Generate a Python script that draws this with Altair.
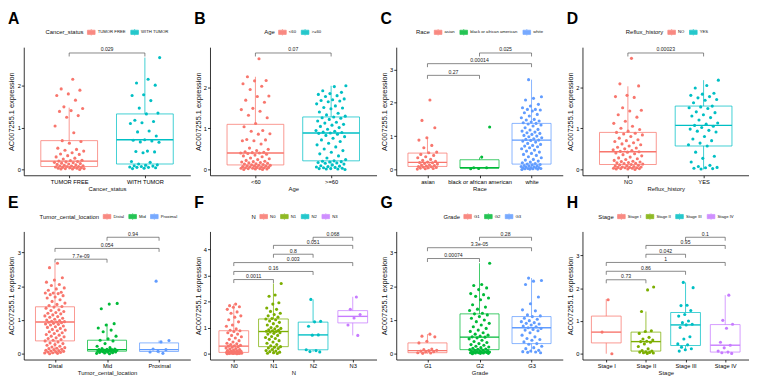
import altair as alt
import pandas as pd

FONT = "Liberation Sans"
YTITLE = "AC007255.1 expression"
PAL2 = ["#F8766D", "#00BFC4"]
PAL3 = ["#F8766D", "#00BA38", "#619CFF"]
PAL4 = ["#F8766D", "#7CAE00", "#00BFC4", "#C77CFF"]

# ---------------- Panel A : Cancer_status ----------------
A_cats = ["TUMOR FREE", "WITH TUMOR"]
A_tumor_free = [2.16, 1.93, 1.90, 1.81, 1.77, 1.66, 1.50, 1.46, 1.41, 1.39, 1.29, 1.25, 1.04, 0.88,
                0.69, 0.67, 0.63, 0.51, 0.48, 0.46, 0.44, 0.40, 0.37, 0.36, 0.33, 0.30, 0.27, 0.25,
                0.22, 0.21, 0.20, 0.19, 0.18, 0.17, 0.16, 0.15, 0.14, 0.13, 0.12, 0.11, 0.10, 0.09,
                0.08, 0.08, 0.07, 0.07, 0.06, 0.05, 0.05, 0.04, 0.04, 0.03, 0.03, 0.02, 0.02, 0.01,
                0.01, 0.00]
A_with_tumor = [2.68, 2.16, 2.07, 2.02, 1.79, 1.77, 1.65, 1.47, 1.35, 1.33, 1.18, 1.15, 1.12, 1.10,
                0.92, 0.90, 0.80, 0.71, 0.70, 0.68, 0.66, 0.65, 0.44, 0.43, 0.42, 0.40, 0.19, 0.17,
                0.13, 0.11, 0.10, 0.09, 0.08, 0.07, 0.06, 0.05, 0.05, 0.04, 0.03, 0.02]
A_q1 = [0.07, 0.13]
A_med = [0.20, 0.71]
A_q3 = [0.69, 1.33]
A_lo = [0.00, 0.02]
A_hi = [1.48, 2.68]
A_pairs = [(1, 2)]
A_p = ["0.029"]
A_h = [2.79]

# ---------------- Panel B : Age ----------------
B_cats = ["<60", ">=60"]
B_lt60 = [2.70, 2.26, 2.17, 2.16, 2.09, 2.03, 1.95, 1.79, 1.78, 1.69, 1.64, 1.49, 1.46, 1.42, 1.32,
          1.26, 1.12, 1.04, 0.95, 0.93, 0.87, 0.86, 0.73, 0.72, 0.70, 0.70, 0.62, 0.52, 0.49, 0.46,
          0.43, 0.42, 0.41, 0.40, 0.40, 0.39, 0.37, 0.35, 0.33, 0.31, 0.28, 0.26, 0.24, 0.22, 0.20,
          0.19, 0.18, 0.17, 0.16, 0.15, 0.14, 0.13, 0.12, 0.11, 0.10, 0.10, 0.09, 0.08, 0.08, 0.07,
          0.06, 0.06, 0.05, 0.05, 0.04, 0.04, 0.03, 0.03, 0.02, 0.02, 0.01, 0.01, 0.00, 0.00]
B_ge60 = [2.04, 2.02, 1.92, 1.88, 1.85, 1.83, 1.80, 1.78, 1.72, 1.70, 1.68, 1.67, 1.65, 1.60, 1.55,
          1.51, 1.50, 1.48, 1.40, 1.37, 1.33, 1.30, 1.28, 1.26, 1.25, 1.22, 1.18, 1.15, 1.13, 1.10,
          1.08, 1.05, 1.02, 0.98, 0.95, 0.93, 0.91, 0.90, 0.89, 0.88, 0.86, 0.83, 0.80, 0.76, 0.72,
          0.68, 0.64, 0.60, 0.55, 0.50, 0.46, 0.42, 0.38, 0.33, 0.28, 0.24, 0.21, 0.20, 0.19, 0.18,
          0.17, 0.16, 0.15, 0.13, 0.11, 0.09, 0.08, 0.07, 0.06, 0.05, 0.04, 0.03, 0.02, 0.02, 0.01,
          0.01, 0.00]
B_q1 = [0.11, 0.21]
B_med = [0.40, 0.89]
B_q3 = [1.10, 1.28]
B_lo = [0.00, 0.00]
B_hi = [2.26, 2.04]
B_pairs = [(1, 2)]
B_p = ["0.07"]
B_h = [2.84]

# ---------------- Panel C : Race ----------------
C_cats = ["asian", "black or african american", "white"]
C_asian = [2.08, 1.47, 1.25, 0.95, 0.88, 0.72, 0.65, 0.52, 0.50, 0.45, 0.42, 0.38, 0.35, 0.30,
           0.27, 0.24, 0.22, 0.21, 0.20, 0.18, 0.16, 0.14, 0.13, 0.12, 0.10, 0.09, 0.08, 0.07,
           0.06, 0.05, 0.04, 0.03, 0.02, 0.01]
C_black = [1.27, 0.37, 0.05, 0.05, 0.03, 0.02]
C_white = [2.69, 2.18, 2.13, 2.08, 1.95, 1.90, 1.85, 1.80, 1.80, 1.78, 1.75, 1.70, 1.65, 1.60,
           1.55, 1.50, 1.48, 1.45, 1.42, 1.40, 1.38, 1.36, 1.33, 1.30, 1.25, 1.20, 1.18, 1.15,
           1.12, 1.10, 1.08, 1.05, 1.02, 1.00, 0.98, 0.95, 0.92, 0.90, 0.88, 0.87, 0.85, 0.82,
           0.78, 0.75, 0.72, 0.70, 0.68, 0.65, 0.62, 0.58, 0.55, 0.52, 0.48, 0.45, 0.42, 0.38,
           0.35, 0.30, 0.28, 0.25, 0.22, 0.20, 0.18, 0.16, 0.15, 0.14, 0.12, 0.11, 0.10, 0.09,
           0.08, 0.07, 0.06, 0.05, 0.04, 0.04, 0.03, 0.03, 0.02, 0.02, 0.01, 0.01, 0.00]
C_q1 = [0.09, 0.04, 0.16]
C_med = [0.21, 0.05, 0.88]
C_q3 = [0.49, 0.29, 1.38]
C_lo = [0.00, 0.02, 0.00]
C_hi = [0.93, 0.36, 2.69]
C_pairs = [(1, 2), (1, 3), (2, 3)]
C_p = ["0.27", "0.00014", "0.025"]
C_h = [2.82, 3.17, 3.49]

# ---------------- Panel D : Reflux_history ----------------
D_cats = ["NO", "YES"]
D_no = [2.70, 2.08, 2.03, 1.80, 1.77, 1.75, 1.50, 1.44, 1.42, 1.33, 1.27, 1.17, 1.12, 1.05, 1.00,
        0.97, 0.93, 0.90, 0.88, 0.86, 0.84, 0.80, 0.76, 0.72, 0.70, 0.68, 0.65, 0.62, 0.60, 0.57,
        0.54, 0.52, 0.50, 0.48, 0.46, 0.44, 0.43, 0.42, 0.40, 0.38, 0.36, 0.33, 0.30, 0.28, 0.26,
        0.24, 0.22, 0.20, 0.19, 0.18, 0.17, 0.16, 0.15, 0.14, 0.13, 0.12, 0.11, 0.10, 0.09, 0.08,
        0.07, 0.06, 0.06, 0.05, 0.05, 0.04, 0.04, 0.03, 0.03, 0.02, 0.02, 0.01, 0.01, 0.00]
D_yes = [2.17, 2.04, 1.98, 1.85, 1.83, 1.80, 1.77, 1.74, 1.70, 1.68, 1.62, 1.54, 1.52, 1.50, 1.48,
         1.40, 1.38, 1.33, 1.30, 1.26, 1.20, 1.13, 1.10, 1.07, 1.05, 1.02, 0.98, 0.95, 0.93, 0.91,
         0.80, 0.74, 0.70, 0.64, 0.60, 0.57, 0.42, 0.32, 0.27, 0.18, 0.10, 0.07, 0.05, 0.04, 0.03,
         0.02, 0.01]
D_q1 = [0.12, 0.57]
D_med = [0.43, 1.07]
D_q3 = [0.90, 1.54]
D_lo = [0.00, 0.00]
D_hi = [2.02, 2.17]
D_pairs = [(1, 2)]
D_p = ["0.00023"]
D_h = [2.83]

# ---------------- Panel E : Tumor_cental_location ----------------
E_cats = ["Distal", "Mid", "Proximal"]
E_distal = [2.68, 2.55, 2.25, 2.18, 2.12, 2.05, 2.02, 1.95, 1.92, 1.88, 1.82, 1.80, 1.80, 1.78,
            1.75, 1.72, 1.68, 1.65, 1.60, 1.55, 1.50, 1.46, 1.43, 1.40, 1.38, 1.35, 1.30, 1.28,
            1.25, 1.22, 1.20, 1.18, 1.15, 1.12, 1.10, 1.08, 1.05, 1.02, 1.00, 0.98, 0.96, 0.95,
            0.94, 0.93, 0.92, 0.90, 0.88, 0.87, 0.85, 0.82, 0.80, 0.78, 0.75, 0.72, 0.70, 0.68,
            0.65, 0.62, 0.60, 0.57, 0.55, 0.52, 0.50, 0.47, 0.45, 0.42, 0.40, 0.38, 0.35, 0.32,
            0.30, 0.27, 0.25, 0.22, 0.20, 0.18, 0.16, 0.15, 0.13, 0.12, 0.10, 0.09, 0.08, 0.07,
            0.06, 0.05, 0.04, 0.03, 0.02, 0.01, 0.00]
E_mid = [1.49, 1.47, 1.33, 0.89, 0.85, 0.76, 0.70, 0.65, 0.52, 0.44, 0.40, 0.38, 0.30, 0.22,
         0.18, 0.15, 0.14, 0.13, 0.12, 0.12, 0.11, 0.10, 0.10, 0.09, 0.09, 0.08, 0.08, 0.07,
         0.06, 0.05, 0.05, 0.04, 0.03, 0.02, 0.01, 0.00]
E_proximal = [2.15, 0.39, 0.35, 0.14, 0.12, 0.07, 0.05, 0.01]
E_q1 = [0.38, 0.075, 0.066]
E_med = [0.94, 0.12, 0.12]
E_q3 = [1.39, 0.40, 0.32]
E_lo = [0.00, 0.00, 0.01]
E_hi = [2.68, 0.89, 0.39]
E_pairs = [(1, 2), (1, 3), (2, 3)]
E_p = ["7.7e-09", "0.054", "0.94"]
E_h = [2.80, 3.12, 3.45]

# ---------------- Panel F : N ----------------
F_cats = ["N0", "N1", "N2", "N3"]
F_n0 = [1.90, 1.84, 1.80, 1.78, 1.70, 1.60, 1.55, 1.45, 1.40, 1.30, 1.22, 1.10, 1.05, 0.95, 0.90,
        0.88, 0.85, 0.80, 0.75, 0.70, 0.65, 0.60, 0.55, 0.50, 0.45, 0.40, 0.38, 0.35, 0.32, 0.30,
        0.29, 0.27, 0.25, 0.22, 0.20, 0.18, 0.16, 0.14, 0.12, 0.11, 0.10, 0.09, 0.08, 0.07, 0.06,
        0.06, 0.05, 0.05, 0.04, 0.04, 0.03, 0.03, 0.03, 0.02, 0.02, 0.02, 0.01, 0.01, 0.01, 0.00,
        0.00]
F_n1 = [2.69, 2.25, 2.20, 1.95, 1.90, 1.75, 1.70, 1.62, 1.55, 1.50, 1.45, 1.40, 1.35, 1.33, 1.30,
        1.25, 1.20, 1.15, 1.10, 1.05, 1.00, 0.97, 0.95, 0.92, 0.90, 0.88, 0.86, 0.85, 0.83, 0.80,
        0.78, 0.75, 0.70, 0.66, 0.62, 0.58, 0.55, 0.50, 0.45, 0.40, 0.35, 0.30, 0.27, 0.25, 0.22,
        0.20, 0.16, 0.12, 0.10, 0.08, 0.06, 0.04, 0.02, 0.01]
F_n2 = [2.08, 1.24, 1.22, 1.05, 0.72, 0.71, 0.15, 0.12, 0.08, 0.07]
F_n3 = [2.17, 1.70, 1.50, 1.37, 1.10, 0.70]
F_q1 = [0.05, 0.27, 0.15, 1.18]
F_med = [0.29, 0.85, 0.72, 1.43]
F_q3 = [0.88, 1.33, 1.21, 1.65]
F_lo = [0.00, 0.00, 0.07, 0.70]
F_hi = [1.90, 2.69, 2.08, 2.18]
F_pairs = [(1, 2), (1, 3), (1, 4), (2, 3), (2, 4), (3, 4)]
F_p = ["0.0011", "0.16", "0.003", "0.8", "0.051", "0.068"]
F_h = [2.84, 3.15, 3.49, 3.81, 4.15, 4.46]

# ---------------- Panel G : Grade ----------------
G_cats = ["G1", "G2", "G3"]
G_g1 = [0.58, 0.52, 0.50, 0.37, 0.32, 0.14, 0.12, 0.10, 0.09, 0.08, 0.06, 0.05, 0.03, 0.02, 0.01]
G_g2 = [2.68, 2.05, 2.02, 1.95, 1.90, 1.78, 1.75, 1.70, 1.65, 1.60, 1.45, 1.38, 1.32, 1.28, 1.20,
        1.18, 1.15, 1.10, 1.05, 1.00, 0.95, 0.90, 0.85, 0.80, 0.75, 0.70, 0.66, 0.62, 0.58, 0.55,
        0.52, 0.50, 0.49, 0.47, 0.44, 0.40, 0.36, 0.33, 0.30, 0.27, 0.25, 0.22, 0.20, 0.18, 0.16,
        0.14, 0.13, 0.12, 0.11, 0.10, 0.09, 0.08, 0.07, 0.06, 0.06, 0.05, 0.05, 0.04, 0.04, 0.03,
        0.03, 0.02, 0.02, 0.01, 0.01, 0.00]
G_g3 = [2.24, 2.17, 2.15, 2.05, 1.68, 1.48, 1.30, 1.27, 1.15, 1.12, 1.10, 1.05, 1.02, 0.98, 0.95,
        0.92, 0.90, 0.88, 0.85, 0.82, 0.80, 0.77, 0.75, 0.72, 0.70, 0.68, 0.62, 0.55, 0.50, 0.45,
        0.42, 0.40, 0.35, 0.30, 0.28, 0.22, 0.18, 0.15, 0.10, 0.08, 0.06, 0.05, 0.04, 0.03]
G_q1 = [0.03, 0.12, 0.30]
G_med = [0.09, 0.49, 0.77]
G_q3 = [0.32, 1.18, 1.10]
G_lo = [0.00, 0.00, 0.03]
G_hi = [0.58, 2.68, 2.24]
G_pairs = [(1, 2), (1, 3), (2, 3)]
G_p = ["0.00074", "3.3e-05", "0.28"]
G_h = [2.82, 3.14, 3.45]

# ---------------- Panel H : Stage ----------------
H_cats = ["Stage I", "Stage II", "Stage III", "Stage IV"]
H_s1 = [1.65, 0.66, 0.00]
H_s2 = [2.04, 1.95, 1.29, 0.70, 0.68, 0.62, 0.50, 0.45, 0.42, 0.38, 0.37, 0.35, 0.30, 0.22, 0.15,
        0.10, 0.08, 0.06, 0.05, 0.04, 0.03, 0.02, 0.01]
H_s3 = [2.18, 2.02, 1.48, 1.47, 1.32, 1.20, 1.15, 1.00, 0.95, 0.90, 0.88, 0.80, 0.52, 0.45, 0.30,
        0.27, 0.20, 0.15, 0.12, 0.08]
H_s4 = [1.79, 1.02, 0.90, 0.78, 0.35, 0.26, 0.18, 0.08, 0.05, 0.03, 0.01]
H_q1 = [0.33, 0.08, 0.25, 0.05]
H_med = [0.66, 0.37, 0.88, 0.26]
H_q3 = [1.15, 0.66, 1.26, 0.89]
H_lo = [0.00, 0.00, 0.08, 0.01]
H_hi = [1.67, 1.29, 2.18, 1.79]
H_pairs = [(1, 2), (1, 3), (1, 4), (2, 3), (2, 4), (3, 4)]
H_p = ["0.73", "0.86", "1", "0.042", "0.95", "0.1"]
H_h = [2.26, 2.52, 2.79, 3.04, 3.31, 3.56]

PW, PH = 169, 130
BOXW = 0.375
GOLD = 0.6180339887

SYMBOL = "M-1,-0.55H1V0.55H-1Z M-1,0H1 M0,-0.85V-0.55 M0,0.55V0.85"


def panel(letter, var, cats, groups, q1, med, q3, lo, hi, pairs, plabels, heights, yticks, legend_x):
    n = len(cats)
    colors = {2: PAL2, 3: PAL3, 4: PAL4}[n]
    top = max(heights)
    pad = 0.05 * top
    tip = 0.03 * top
    xscale = alt.Scale(domain=[0.4, n + 0.6], nice=False, zero=False)
    yscale = alt.Scale(domain=[-pad, top + pad], nice=False, zero=False)
    label_expr = "[" + ",".join("'%s'" % c for c in cats) + "][round(datum.value) - 1]"
    xaxis = alt.Axis(values=list(range(1, n + 1)), labelExpr=label_expr, title=var)
    yaxis = alt.Axis(values=yticks, format="d", title=YTITLE)

    def X(f):
        return alt.X(f, type="quantitative", scale=xscale, axis=xaxis)

    def Y(f):
        return alt.Y(f, type="quantitative", scale=yscale, axis=yaxis)

    cscale = alt.Scale(domain=cats, range=colors)

    box = pd.DataFrame({"cat": cats, "idx": list(range(1, n + 1)),
                        "q1": q1, "med": med, "q3": q3, "lo": lo, "hi": hi})
    box["xl"] = box["idx"] - BOXW
    box["xr"] = box["idx"] + BOXW

    whisk = pd.DataFrame({
        "cat": cats + cats,
        "idx": list(range(1, n + 1)) * 2,
        "y": lo + q3,
        "y2": q1 + hi,
    })

    rows = []
    for gi, vals in enumerate(groups):
        for k, v in enumerate(vals):
            off = (((k + 1) * GOLD + 0.37 * gi) % 1.0 - 0.5) * 0.4
            rows.append({"cat": cats[gi], "xj": gi + 1 + off, "value": v})
    pts = pd.DataFrame(rows)

    br = pd.DataFrame({
        "xa": [p[0] for p in pairs],
        "xb": [p[1] for p in pairs],
        "h": heights,
        "label": plabels,
    })
    br["xm"] = (br["xa"] + br["xb"]) / 2
    tips = pd.DataFrame({
        "x": list(br["xa"]) + list(br["xb"]),
        "y": heights + heights,
        "y2": [h - tip for h in heights] * 2,
    })

    legend = alt.Legend(orient="none", legendX=legend_x, legendY=-20, direction="horizontal",
                        title=var, titleOrient="left")

    rect = alt.Chart(box).mark_rect(filled=False, strokeWidth=1, strokeOpacity=0.75).encode(
        x=X("xl"), x2="xr", y=Y("q1"), y2="q3",
        color=alt.Color("cat:N", scale=cscale, legend=legend),
    )
    wl = alt.Chart(whisk).mark_rule(strokeWidth=1, strokeOpacity=0.75).encode(
        x=X("idx"), y=Y("y"), y2="y2",
        color=alt.Color("cat:N", scale=cscale, legend=legend),
    )
    md = alt.Chart(box).mark_rule(strokeWidth=1.4).encode(
        x=X("xl"), x2="xr", y=Y("med"),
        color=alt.Color("cat:N", scale=cscale, legend=legend),
    )
    pt = alt.Chart(pts).mark_circle(size=10, opacity=1).encode(
        x=X("xj"), y=Y("value"),
        fill=alt.Fill("cat:N", scale=alt.Scale(domain=cats, range=colors), legend=None),
    )
    bl = alt.Chart(br).mark_rule(color="#555555", strokeWidth=0.7).encode(
        x=X("xa"), x2="xb", y=Y("h"))
    bt = alt.Chart(tips).mark_rule(color="#555555", strokeWidth=0.7).encode(
        x=X("x"), y=Y("y"), y2="y2")
    tx = alt.Chart(br).mark_text(fontSize=5.2, font=FONT, color="#222222", baseline="bottom", dy=-0.6).encode(
        x=X("xm"), y=Y("h"), text="label:N")

    return alt.layer(rect, wl, md, pt, bl, bt, tx).properties(
        width=PW, height=PH,
        title=alt.TitleParams(letter, anchor="start", frame="bounds", fontSize=16,
                              fontWeight="bold", font=FONT, color="black", offset=1),
    )


pA = panel("A", "Cancer_status", A_cats, [A_tumor_free, A_with_tumor], A_q1, A_med, A_q3, A_lo, A_hi,
           A_pairs, A_p, A_h, [0, 1, 2], 22)
pB = panel("B", "Age", B_cats, [B_lt60, B_ge60], B_q1, B_med, B_q3, B_lo, B_hi,
           B_pairs, B_p, B_h, [0, 1, 2], 55)
pC = panel("C", "Race", C_cats, [C_asian, C_black, C_white], C_q1, C_med, C_q3, C_lo, C_hi,
           C_pairs, C_p, C_h, [0, 1, 2, 3], 20)
pD = panel("D", "Reflux_history", D_cats, [D_no, D_yes], D_q1, D_med, D_q3, D_lo, D_hi,
           D_pairs, D_p, D_h, [0, 1, 2], 44)
pE = panel("E", "Tumor_cental_location", E_cats, [E_distal, E_mid, E_proximal], E_q1, E_med, E_q3,
           E_lo, E_hi, E_pairs, E_p, E_h, [0, 1, 2, 3], 16)
pF = panel("F", "N", F_cats, [F_n0, F_n1, F_n2, F_n3], F_q1, F_med, F_q3, F_lo, F_hi,
           F_pairs, F_p, F_h, [0, 1, 2, 3, 4], 42)
pG = panel("G", "Grade", G_cats, [G_g1, G_g2, G_g3], G_q1, G_med, G_q3, G_lo, G_hi,
           G_pairs, G_p, G_h, [0, 1, 2, 3], 48)
pH = panel("H", "Stage", H_cats, [H_s1, H_s2, H_s3, H_s4], H_q1, H_med, H_q3, H_lo, H_hi,
           H_pairs, H_p, H_h, [0, 1, 2, 3], 16)

row1 = alt.hconcat(pA, pB, pC, pD, spacing=4).resolve_scale(
    color="independent", fill="independent").resolve_legend(color="independent")
row2 = alt.hconcat(pE, pF, pG, pH, spacing=4).resolve_scale(
    color="independent", fill="independent").resolve_legend(color="independent")

chart = alt.vconcat(row1, row2, spacing=4, padding=0).resolve_scale(
    color="independent", fill="independent"
).resolve_legend(color="independent").configure_view(
    strokeWidth=0
).configure_axis(
    grid=False, labelFont=FONT, titleFont=FONT, labelColor="black", titleColor="#111111",
    domainColor="black", tickColor="black", domainWidth=0.8, tickWidth=0.8,
    titleFontWeight="normal", labelOverlap=False, labelFlush=False,
).configure_axisX(
    labelFontSize=5.8, titleFontSize=6, tickSize=2.5, labelPadding=1, titlePadding=1,
    minExtent=9, maxExtent=9,
).configure_axisY(
    labelFontSize=5.8, titleFontSize=7.5, tickSize=2.5, labelPadding=1, titlePadding=1,
    minExtent=7, maxExtent=7,
).configure_legend(
    titleFont=FONT, labelFont=FONT, titleFontSize=6, labelFontSize=4.3, titleFontWeight="normal",
    titleColor="#111111", labelColor="#111111", symbolType=SYMBOL, symbolSize=60,
    symbolStrokeWidth=0.7, symbolFillColor="white", symbolOpacity=0.85, columnPadding=3,
    labelOffset=2, titlePadding=3, padding=0,
).configure_title(font=FONT)

chart.save("out.html", embed_options={"renderer": "svg", "actions": False})
